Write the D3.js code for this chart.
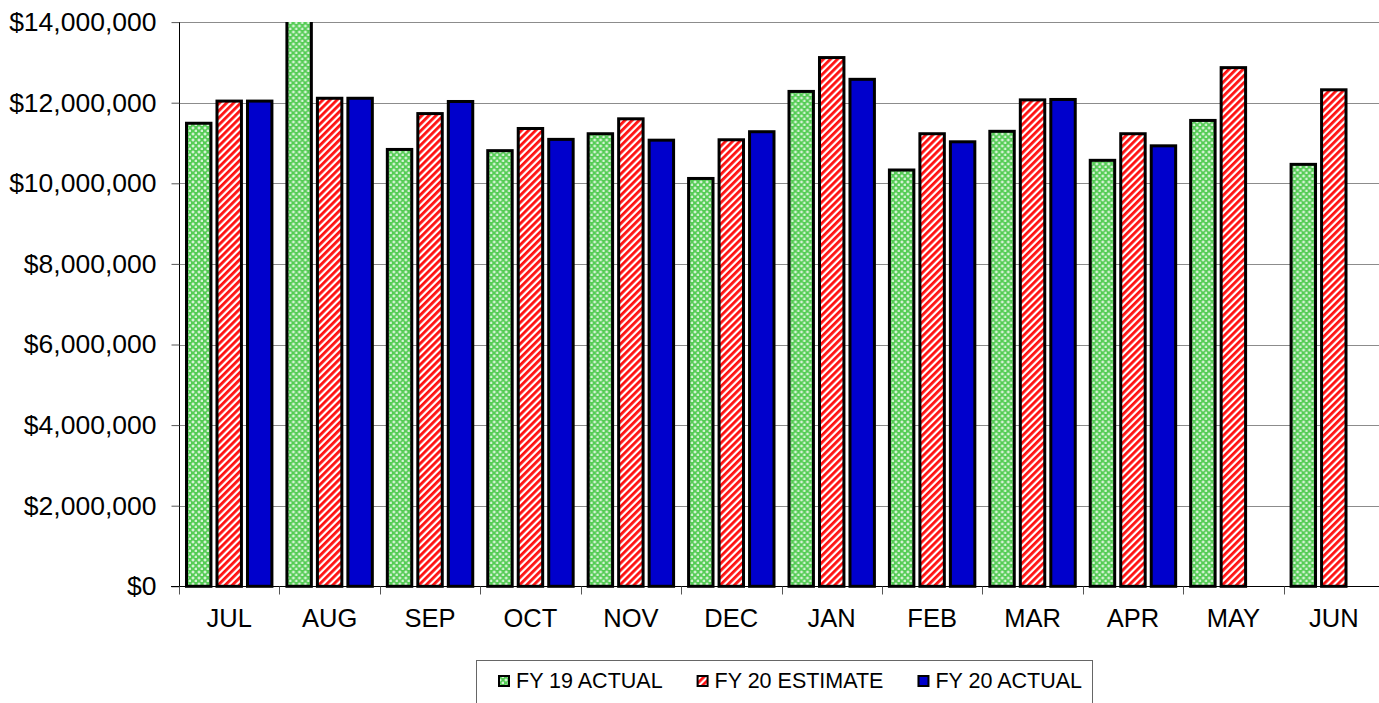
<!DOCTYPE html>
<html>
<head>
<meta charset="utf-8">
<script src="https://cdn.jsdelivr.net/npm/d3@7"></script>
<style>
  html, body { margin: 0; padding: 0; background: #fff; }
  svg { display: block; }
  text { font-family: Arial, "Liberation Sans", sans-serif; fill: #000; }
</style>
</head>
<body>
<svg id="chart" width="1379" height="703"></svg>
<script>
// Monthly revenue, fiscal-year order
const months = ["JUL","AUG","SEP","OCT","NOV","DEC","JAN","FEB","MAR","APR","MAY","JUN"];
const seriesNames = ["FY 19 ACTUAL", "FY 20 ESTIMATE", "FY 20 ACTUAL"];
const fy19Actual   = [11490000, 14400000, 10840000, 10810000, 11230000, 10120000, 12280000, 10330000, 11290000, 10570000, 11560000, 10470000];
const fy20Estimate = [12040000, 12110000, 11730000, 11360000, 11600000, 11080000, 13120000, 11230000, 12070000, 11230000, 12870000, 12320000];
const fy20Actual   = [12040000, 12110000, 12030000, 11090000, 11070000, 11280000, 12580000, 11030000, 12080000, 10930000, null, null];
const yTicks = [0, 2000000, 4000000, 6000000, 8000000, 10000000, 12000000, 14000000];

const svg = d3.select("#chart");
const plot = { left: 179, right: 1384, top: 22.1, bottom: 586.3 };

const x0 = d3.scaleBand().domain(months).range([plot.left, plot.right]).padding(0);
const x1 = d3.scaleBand().domain(seriesNames).range([6, x0.bandwidth() - 6]).paddingInner(0.1).paddingOuter(0);
const y = d3.scaleLinear().domain([0, 14000000]).range([plot.bottom, plot.top]);

// Fill patterns
const defs = svg.append("defs");
const grid = defs.append("pattern").attr("id", "pGreen")
  .attr("patternUnits", "userSpaceOnUse").attr("width", 6).attr("height", 6);
grid.append("rect").attr("width", 6).attr("height", 6).attr("fill", "#55cc55");
grid.append("path").attr("d", "M1.5,0.5h1v1h1v1h-1v1h-1v-1h-1v-1h1z").attr("fill", "#fff");
grid.append("path").attr("d", "M4.5,3.5h1v1h1v1h-1v1h-1v-1h-1v-1h1z").attr("fill", "#fff");

const stripes = defs.append("pattern").attr("id", "pRed")
  .attr("patternUnits", "userSpaceOnUse").attr("width", 5).attr("height", 5)
  .attr("patternTransform", "rotate(45)");
stripes.append("rect").attr("width", 5).attr("height", 5).attr("fill", "#fff");
stripes.append("rect").attr("width", 2.8).attr("height", 5).attr("fill", "#ff1010");

const fills = { "FY 19 ACTUAL": "url(#pGreen)", "FY 20 ESTIMATE": "url(#pRed)", "FY 20 ACTUAL": "#0000cc" };
const seriesData = { "FY 19 ACTUAL": fy19Actual, "FY 20 ESTIMATE": fy20Estimate, "FY 20 ACTUAL": fy20Actual };

defs.append("clipPath").attr("id", "plotClip").append("rect")
  .attr("x", plot.left).attr("y", plot.top).attr("width", plot.right - plot.left).attr("height", plot.bottom - plot.top + 4);

// Horizontal gridlines
svg.append("g").selectAll("line").data(yTicks.filter(d => d > 0)).join("line")
  .attr("x1", plot.left).attr("x2", 1379)
  .attr("y1", d => Math.round(y(d)) + 0.5).attr("y2", d => Math.round(y(d)) + 0.5)
  .attr("stroke", "#8c8c8c").attr("stroke-width", 1);

// Bars
const rows = months.map((m, i) => ({ month: m, values: seriesNames.map(s => ({ series: s, value: seriesData[s][i] })) }));
const sw = 3;
svg.append("g").attr("clip-path", "url(#plotClip)")
  .selectAll("g").data(rows).join("g")
  .attr("transform", d => `translate(${x0(d.month)},0)`)
  .selectAll("rect").data(d => d.values.filter(v => v.value != null)).join("rect")
  .attr("x", d => x1(d.series) + sw / 2)
  .attr("width", x1.bandwidth() - sw)
  .attr("y", d => y(d.value))
  .attr("height", d => y(0) - y(d.value))
  .attr("fill", d => fills[d.series])
  .attr("stroke", "#000").attr("stroke-width", sw);

// Y axis
const yAxis = svg.append("g").attr("transform", `translate(${plot.left + 0.5},0)`)
  .call(d3.axisLeft(y).tickValues(yTicks).tickSize(8).tickPadding(15)
    .tickFormat(d => "$" + d3.format(",")(d)));
yAxis.select(".domain").attr("stroke", "#000").attr("d", `M0,${plot.top}V${plot.bottom}`);
yAxis.selectAll(".tick line").attr("stroke", "#555");
yAxis.selectAll("text").style("font-size", "26.5px").attr("fill", "#000")
  .style("font-family", 'Arial, "Liberation Sans", sans-serif');

// X axis
const xAxisY = Math.round(y(0)) + 0.5;
const xg = svg.append("g");
xg.append("line").attr("x1", plot.left - 8).attr("x2", 1379)
  .attr("y1", xAxisY).attr("y2", xAxisY).attr("stroke", "#000");
xg.selectAll("line.tk").data(months).join("line").attr("class", "tk")
  .attr("x1", d => Math.round(x0(d)) + 0.5).attr("x2", d => Math.round(x0(d)) + 0.5)
  .attr("y1", xAxisY).attr("y2", xAxisY + 8).attr("stroke", "#555");
xg.selectAll("text").data(months).join("text")
  .attr("x", d => x0(d) + x0.bandwidth() / 2)
  .attr("y", 627)
  .attr("text-anchor", "middle")
  .style("font-size", "25.5px")
  .text(d => d);

// Legend
const legend = svg.append("g");
legend.append("rect").attr("x", 476.5).attr("y", 660.5).attr("width", 616).attr("height", 60)
  .attr("fill", "#fff").attr("stroke", "#666");
let lx = 499;
seriesNames.forEach(s => {
  const g = legend.append("g");
  g.append("rect").attr("x", lx).attr("y", 676).attr("width", 10).attr("height", 10)
    .attr("fill", fills[s]).attr("stroke", "#000").attr("stroke-width", 2);
  const t = g.append("text").attr("x", lx + 17).attr("y", 688)
    .style("font-size", "21.5px").text(s);
  lx = lx + 17 + t.node().getComputedTextLength() + 35;
});
</script>
</body>
</html>
